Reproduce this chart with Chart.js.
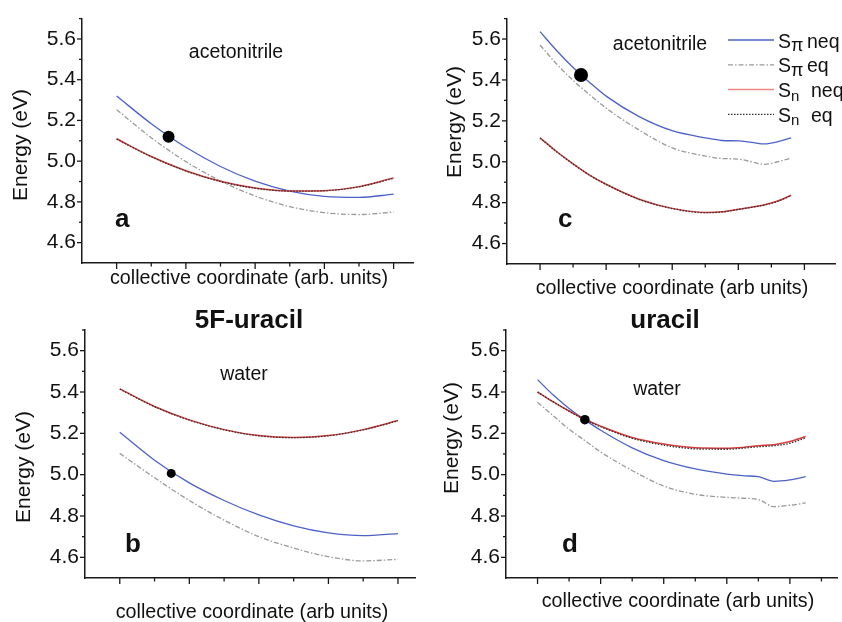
<!DOCTYPE html>
<html>
<head>
<meta charset="utf-8">
<script src="https://cdn.jsdelivr.net/npm/chart.js@4.4.1/dist/chart.umd.min.js"></script>
<style>
  html, body { margin:0; padding:0; background:#fff; width:842px; height:622px; overflow:hidden; }
  canvas { position:absolute; }
</style>
</head>
<body>
<canvas id="pa" width="419" height="300" style="left:0px;top:0px"></canvas>
<canvas id="pc" width="422" height="300" style="left:420px;top:0px"></canvas>
<canvas id="pb" width="420" height="322" style="left:0px;top:300px"></canvas>
<canvas id="pd" width="422" height="322" style="left:420px;top:300px"></canvas>
<script>
// ---------- data ----------
// panel a : 5F-uracil in acetonitrile
const X_A        = [0, 0.5, 1, 1.5, 2, 2.5, 3, 3.5, 4];
const A_SPI_NEQ  = [5.320, 5.184, 5.068, 4.974, 4.902, 4.853, 4.827, 4.822, 4.838];
const A_SPI_EQ   = [5.253, 5.115, 4.998, 4.903, 4.829, 4.777, 4.747, 4.738, 4.750];
const A_SN_NEQ   = [5.110, 5.023, 4.953, 4.901, 4.868, 4.853, 4.855, 4.875, 4.918];
const A_SN_EQ    = [5.108, 5.022, 4.952, 4.900, 4.867, 4.853, 4.855, 4.874, 4.916];
const A_DOT      = [0.75, 5.12];

// panel c : uracil in acetonitrile
const X_C        = [0, 0.25, 0.5, 0.75, 1, 1.5, 2, 2.5, 2.75, 3, 3.2, 3.4, 3.6, 3.8];
const C_SPI_NEQ  = [5.636, 5.544, 5.461, 5.388, 5.321, 5.221, 5.152, 5.117, 5.104, 5.102, 5.095, 5.087, 5.098, 5.117];
const C_SPI_EQ   = [5.571, 5.478, 5.398, 5.328, 5.262, 5.155, 5.068, 5.028, 5.016, 5.013, 5.000, 4.987, 5.000, 5.018];
const C_SN_NEQ   = [5.117, 5.050, 4.990, 4.935, 4.890, 4.817, 4.772, 4.752, 4.755, 4.768, 4.778, 4.790, 4.808, 4.836];
const C_SN_EQ    = [5.116, 5.049, 4.989, 4.934, 4.889, 4.816, 4.771, 4.751, 4.754, 4.767, 4.777, 4.789, 4.807, 4.835];
const C_DOT      = [0.62, 5.424];

// panel b : 5F-uracil in water
const X_B        = [0, 0.5, 1, 1.5, 2, 2.5, 3, 3.5, 4];
const B_SPI_NEQ  = [5.205, 5.070, 4.960, 4.875, 4.805, 4.752, 4.718, 4.705, 4.715];
const B_SPI_EQ   = [5.103, 4.985, 4.875, 4.780, 4.700, 4.645, 4.603, 4.583, 4.590];
const B_SN_NEQ   = [5.415, 5.330, 5.265, 5.218, 5.189, 5.180, 5.189, 5.218, 5.262];
const B_SN_EQ    = [5.414, 5.329, 5.264, 5.217, 5.188, 5.179, 5.188, 5.217, 5.261];
const B_DOT      = [0.74, 5.006];

// panel d : uracil in water
const X_D        = [0, 0.25, 0.5, 0.75, 1, 1.5, 2, 2.5, 3, 3.25, 3.5, 3.75, 4, 4.25];
const D_SPI_NEQ  = [5.460, 5.385, 5.320, 5.265, 5.215, 5.130, 5.068, 5.028, 5.003, 4.995, 4.990, 4.968, 4.975, 4.990];
const D_SPI_EQ   = [5.350, 5.285, 5.220, 5.165, 5.110, 5.020, 4.945, 4.905, 4.890, 4.886, 4.880, 4.845, 4.852, 4.863];
const D_SN_NEQ   = [5.400, 5.352, 5.308, 5.268, 5.235, 5.180, 5.148, 5.130, 5.128, 5.132, 5.140, 5.145, 5.160, 5.185];
const D_SN_EQ    = [5.400, 5.352, 5.307, 5.266, 5.232, 5.176, 5.143, 5.125, 5.123, 5.128, 5.135, 5.140, 5.152, 5.178];
const D_DOT      = [0.75, 5.266];

const Y_MIN = 4.5, Y_MAX = 5.7;
const Y_LABELS = ['4.6', '4.8', '5.0', '5.2', '5.4', '5.6'];
const LEGEND_NAMES = [['S', 'π', 'neq'], ['S', 'π', 'eq'], ['S', 'n', 'neq'], ['S', 'n', 'eq']];

// ---------- styles ----------
const FONT = "'Liberation Sans', Arial, Helvetica, sans-serif";
const BLUE = '#4d62c6', GRAY = '#9a9a9a', RED = '#d93c3c', DARK = '#333333';
const STY = {
  spiNeq: { borderColor: BLUE, borderWidth: 1.3, borderDash: [] },
  spiEq:  { borderColor: GRAY, borderWidth: 1.3, borderDash: [5, 2, 1.5, 2] },
  snNeq:  { borderColor: RED,  borderWidth: 1.5, borderDash: [] },
  snEq:   { borderColor: DARK, borderWidth: 1.3, borderDash: [1.5, 1.5] }
};

function pts(xs, ys) { return xs.map((x, i) => ({ x: x, y: ys[i] })); }
function lineDs(label, xs, ys, st) {
  return Object.assign({ label: label, data: pts(xs, ys), pointRadius: 0, fill: false,
    cubicInterpolationMode: 'monotone' }, st);
}
function dotDs(d, r) {
  return { label: 'point', data: [{ x: d[0], y: d[1] }], showLine: false, pointRadius: r,
    pointBackgroundColor: '#000', pointBorderColor: '#000', pointBorderWidth: 0 };
}

const deco = {
  id: 'deco',
  afterDraw(chart, args, o) {
    const ctx = chart.ctx, xs = chart.scales.x, ys = chart.scales.y, ca = chart.chartArea;
    ctx.save();
    ctx.strokeStyle = '#1a1a1a'; ctx.lineWidth = 1.3; ctx.setLineDash([]);
    // x tick marks (major every 1, minor every 0.5)
    for (let k = Math.ceil(xs.min * 2); k <= Math.floor(xs.max * 2 + 1e-9); k++) {
      const v = k / 2;
      if (Math.abs(v - xs.min) < 1e-6) continue;
      const px = xs.getPixelForValue(v);
      const len = (k % 2 === 0) ? 6 : 3.5;
      ctx.beginPath(); ctx.moveTo(px, ca.bottom); ctx.lineTo(px, ca.bottom + len); ctx.stroke();
    }
    // y tick marks (major every 0.2, minor every 0.1)
    for (let k = Math.round(ys.min * 10) + 1; k <= Math.round(ys.max * 10); k++) {
      const py = ys.getPixelForValue(k / 10);
      const len = (k % 2 === 0) ? 5 : 3;
      ctx.beginPath(); ctx.moveTo(ca.left, py); ctx.lineTo(ca.left - len, py); ctx.stroke();
    }
    // texts (page coordinates -> canvas coordinates)
    ctx.fillStyle = '#111';
    (o.texts || []).forEach(t => {
      ctx.save();
      ctx.font = t.font;
      ctx.textAlign = t.align || 'center';
      ctx.textBaseline = t.base || 'middle';
      ctx.translate(t.x - o.ox, t.y - o.oy);
      if (t.rot) ctx.rotate(t.rot);
      ctx.fillText(t.t, 0, 0);
      ctx.restore();
    });
    // legend
    if (o.legend) {
      const styles = [STY.spiNeq, STY.spiEq, { borderColor: '#e98a84', borderWidth: 1.5, borderDash: [] }, STY.snEq];
      LEGEND_NAMES.forEach((n, i) => {
        const y = 40 + i * 24.8 - o.oy;
        const st = styles[i];
        ctx.strokeStyle = st.borderColor; ctx.lineWidth = st.borderWidth; ctx.setLineDash(st.borderDash);
        ctx.beginPath(); ctx.moveTo(728 - o.ox, y); ctx.lineTo(774 - o.ox, y); ctx.stroke();
        ctx.setLineDash([]);
        ctx.fillStyle = '#111'; ctx.textAlign = 'left'; ctx.textBaseline = 'alphabetic';
        ctx.font = '19.5px ' + FONT;
        ctx.fillText(n[0], 778 - o.ox, y + 7.5);
        ctx.font = (n[1] === 'π' ? '18px ' : '15px ') + FONT;
        ctx.fillText(n[1], 791 - o.ox, y + 11);
        ctx.font = '19.5px ' + FONT;
        ctx.fillText(n[2], (n[1] === 'π' ? 807 : 811) - o.ox, y + 7.5);
      });
    }
    ctx.restore();
  }
};

function makeChart(id, p) {
  new Chart(document.getElementById(id), {
    type: 'line',
    data: {
      datasets: [
        dotDs(p.dot, p.dotR),
        lineDs('Sn eq', p.x, p.snEq, STY.snEq),
        lineDs('Sn neq', p.x, p.snNeq, STY.snNeq),
        lineDs('Sπ neq', p.x, p.spiNeq, STY.spiNeq),
        lineDs('Sπ eq', p.x, p.spiEq, STY.spiEq)
      ]
    },
    options: {
      responsive: false, animation: false, devicePixelRatio: 1,
      layout: { padding: { top: p.pt, left: 0, right: 0, bottom: 0 } },
      plugins: {
        legend: { display: false }, tooltip: { enabled: false }, title: { display: false },
        deco: { ox: p.ox, oy: p.oy, texts: p.texts, legend: !!p.legend }
      },
      scales: {
        x: {
          type: 'linear', min: -0.5, max: p.xMax,
          ticks: { display: false }, grid: { display: false, drawTicks: false },
          border: { display: true, color: '#1a1a1a', width: 1.5 },
          afterFit: s => { s.height = p.xH; }
        },
        y: {
          type: 'linear', min: Y_MIN, max: Y_MAX,
          ticks: {
            stepSize: 0.1, autoSkip: false, padding: 6, color: '#111',
            font: { family: FONT, size: 21 },
            callback: v => { const s = (Math.round(v * 10) / 10).toFixed(1); return Y_LABELS.includes(s) ? s : ''; }
          },
          grid: { display: false, drawTicks: false },
          border: { display: true, color: '#1a1a1a', width: 1.5 },
          afterFit: s => { s.width = p.yW; }
        }
      }
    },
    plugins: [deco]
  });
}

const F_TXT = '19.5px ' + FONT, F_AX = '19.7px ' + FONT, F_Y = '21px ' + FONT;
const F_LET = 'bold 26px ' + FONT, F_TIT = 'bold 26px ' + FONT;
const ROT = -Math.PI / 2;

makeChart('pa', {
  x: X_A, spiNeq: A_SPI_NEQ, spiEq: A_SPI_EQ, snNeq: A_SN_NEQ, snEq: A_SN_EQ, dot: A_DOT, dotR: 6,
  ox: 0, oy: 0, pt: 14, xH: 37, yW: 82, xMax: 4.28,
  texts: [
    { t: 'Energy (eV)', x: 21, y: 145, font: F_Y, rot: ROT },
    { t: 'acetonitrile', x: 236, y: 53, font: F_TXT },
    { t: 'a', x: 115, y: 227, font: F_LET, align: 'left', base: 'alphabetic' },
    { t: 'collective coordinate (arb. units)', x: 249, y: 279, font: F_AX }
  ]
});
makeChart('pc', {
  x: X_C, spiNeq: C_SPI_NEQ, spiEq: C_SPI_EQ, snNeq: C_SN_NEQ, snEq: C_SN_EQ, dot: C_DOT, dotR: 7,
  ox: 420, oy: 0, pt: 15, xH: 36, yW: 87, xMax: 4.463, legend: true,
  texts: [
    { t: 'Energy (eV)', x: 455, y: 122, font: F_Y, rot: ROT },
    { t: 'acetonitrile', x: 660, y: 45, font: F_TXT },
    { t: 'c', x: 558, y: 227, font: F_LET, align: 'left', base: 'alphabetic' },
    { t: 'collective coordinate (arb units)', x: 672, y: 289, font: F_AX }
  ]
});
makeChart('pb', {
  x: X_B, spiNeq: B_SPI_NEQ, spiEq: B_SPI_EQ, snNeq: B_SN_NEQ, snEq: B_SN_EQ, dot: B_DOT, dotR: 4.5,
  ox: 0, oy: 300, pt: 30, xH: 44, yW: 85, xMax: 4.252,
  texts: [
    { t: '5F-uracil', x: 249, y: 328, font: F_TIT, base: 'alphabetic' },
    { t: 'Energy (eV)', x: 24, y: 467, font: F_Y, rot: ROT },
    { t: 'water', x: 244, y: 375, font: F_TXT },
    { t: 'b', x: 125, y: 552, font: F_LET, align: 'left', base: 'alphabetic' },
    { t: 'collective coordinate (arb units)', x: 252, y: 613, font: F_AX }
  ]
});
makeChart('pd', {
  x: X_D, spiNeq: D_SPI_NEQ, spiEq: D_SPI_EQ, snNeq: D_SN_NEQ, snEq: D_SN_EQ, dot: D_DOT, dotR: 4.8,
  ox: 420, oy: 300, pt: 30, xH: 44, yW: 86, xMax: 4.75,
  texts: [
    { t: 'uracil', x: 665, y: 328, font: F_TIT, base: 'alphabetic' },
    { t: 'Energy (eV)', x: 452, y: 438, font: F_Y, rot: ROT },
    { t: 'water', x: 657, y: 390, font: F_TXT },
    { t: 'd', x: 562, y: 552, font: F_LET, align: 'left', base: 'alphabetic' },
    { t: 'collective coordinate (arb units)', x: 678, y: 602, font: F_AX }
  ]
});
</script>
</body>
</html>
